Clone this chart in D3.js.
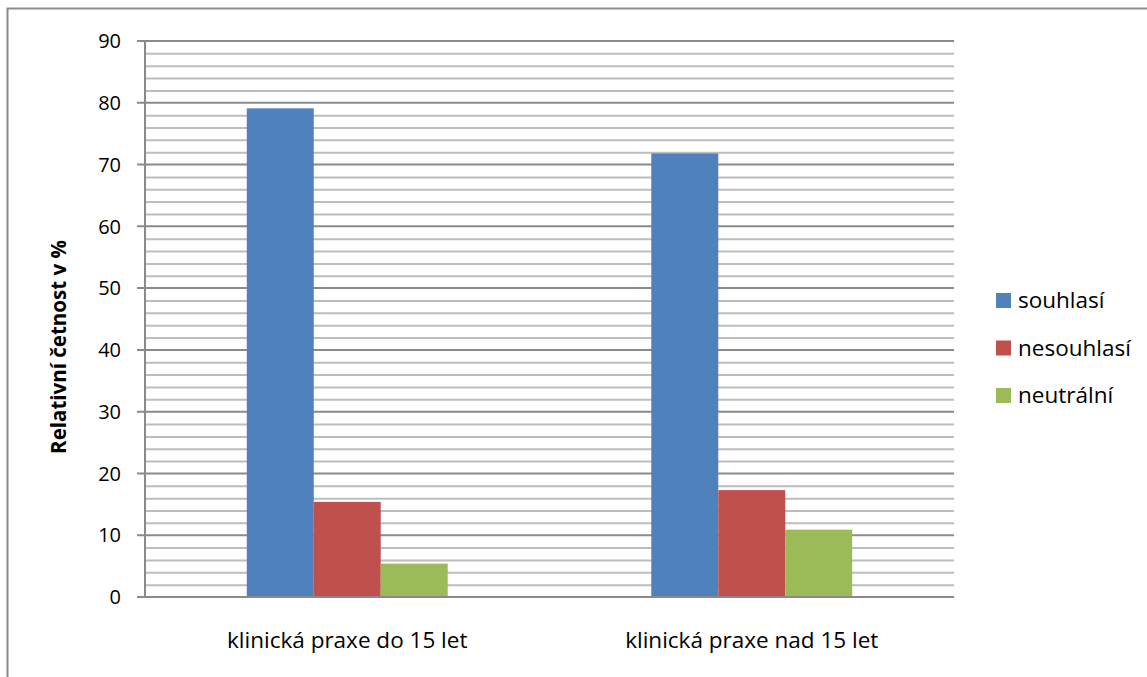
<!DOCTYPE html>
<html lang="cs">
<head>
  <meta charset="UTF-8">
  <title>Relativní četnost</title>
  <style>
    body { margin: 0; background: #fff; }
    svg { display: block; }
  </style>
</head>
<body>
  <svg id="svg" width="1147" height="677"></svg>

  <script src="https://d3js.org/d3.v7.min.js"></script>
  <script>
    // data
    const categories = ['klinická praxe do 15 let', 'klinická praxe nad 15 let']
    const seriesNames = ['souhlasí', 'nesouhlasí', 'neutrální']
    const souhlasi = [79.1, 71.8]
    const nesouhlasi = [15.4, 17.3]
    const neutralni = [5.4, 10.9]
    const yTicks = [0, 10, 20, 30, 40, 50, 60, 70, 80, 90]

    const colors = ['#4f81bd', '#c0504d', '#9bbb59']
    const values = [souhlasi, nesouhlasi, neutralni]
    const font = '"Open Sans", sans-serif'

    const svg = d3.select('#svg')

    // outer frame (only left and top visible)
    svg.append('rect')
      .attr('x', 7.5).attr('y', 8.5)
      .attr('width', 1200).attr('height', 700)
      .attr('fill', 'none')
      .attr('stroke', '#8c8c8c')
      .attr('stroke-width', 2)

    const plotLeft = 145, plotRight = 954, plotTop = 41, plotBottom = 597

    const yScale = d3.scaleLinear().domain([0, 90]).range([plotBottom, plotTop])
    const xScale = d3.scaleBand().domain(categories).range([plotLeft, plotRight])
    const inner = d3.scaleBand().domain(seriesNames)
      .range([0, xScale.bandwidth()]).paddingOuter(1.52)

    // minor gridlines every 2
    const minor = d3.range(2, 90, 2).filter(v => v % 10 !== 0)
    svg.append('g').selectAll('line').data(minor).enter()
      .append('line')
      .attr('x1', plotLeft).attr('x2', plotRight)
      .attr('y1', d => yScale(d) + 0.5).attr('y2', d => yScale(d) + 0.5)
      .attr('stroke', '#bdbdbd').attr('stroke-width', 2)

    // major gridlines + axis ticks
    svg.append('g').selectAll('line').data(yTicks.filter(d => d > 0)).enter()
      .append('line')
      .attr('x1', plotLeft - 8).attr('x2', plotRight)
      .attr('y1', d => yScale(d)).attr('y2', d => yScale(d))
      .attr('stroke', '#8a8a8a').attr('stroke-width', 2)

    // bars
    const groups = svg.append('g').selectAll('g').data(seriesNames).enter()
      .append('g')
      .attr('fill', (d, i) => colors[i])
    groups.selectAll('rect')
      .data((s, i) => categories.map((c, j) => ({ c, s, v: values[i][j] })))
      .enter()
      .append('rect')
      .attr('x', d => xScale(d.c) + inner(d.s))
      .attr('width', inner.bandwidth())
      .attr('y', d => yScale(d.v))
      .attr('height', d => yScale(0) - yScale(d.v))

    // axes lines
    svg.append('line')
      .attr('x1', plotLeft).attr('x2', plotLeft)
      .attr('y1', plotTop).attr('y2', plotBottom)
      .attr('stroke', '#8a8a8a').attr('stroke-width', 2)
    svg.append('line')
      .attr('x1', plotLeft - 8).attr('x2', plotRight)
      .attr('y1', plotBottom).attr('y2', plotBottom)
      .attr('stroke', '#8a8a8a').attr('stroke-width', 2)

    // y tick labels
    svg.append('g').selectAll('text').data(yTicks).enter()
      .append('text')
      .attr('x', 121)
      .attr('y', d => yScale(d))
      .attr('dy', '0.36em')
      .attr('text-anchor', 'end')
      .style('font-family', font)
      .style('font-size', '20px')
      .text(d => d)

    // category labels
    svg.append('g').selectAll('text').data(categories).enter()
      .append('text')
      .attr('x', d => xScale(d) + xScale.bandwidth() / 2)
      .attr('y', 648)
      .attr('text-anchor', 'middle')
      .style('font-family', font)
      .style('font-size', '22.5px')
      .text(d => d)

    // y axis title
    svg.append('text')
      .attr('transform', `translate(59, ${(plotTop + plotBottom) / 2 + 28}) rotate(-90)`)
      .attr('text-anchor', 'middle')
      .attr('dy', '0.35em')
      .style('font-family', font)
      .style('font-weight', 'bold')
      .style('font-size', '20.5px')
      .text('Relativní četnost v %')

    // legend
    const legend = svg.append('g').selectAll('g').data(seriesNames).enter()
      .append('g')
      .attr('transform', (d, i) => `translate(996, ${300 + i * 47.5})`)
    legend.append('rect')
      .attr('x', 0).attr('y', -7)
      .attr('width', 15).attr('height', 15)
      .attr('fill', (d, i) => colors[i])
    legend.append('text')
      .attr('x', 22).attr('y', 0)
      .attr('dy', '0.36em')
      .style('font-family', font)
      .style('font-size', '22.5px')
      .text(d => d)
  </script>
</body>
</html>
